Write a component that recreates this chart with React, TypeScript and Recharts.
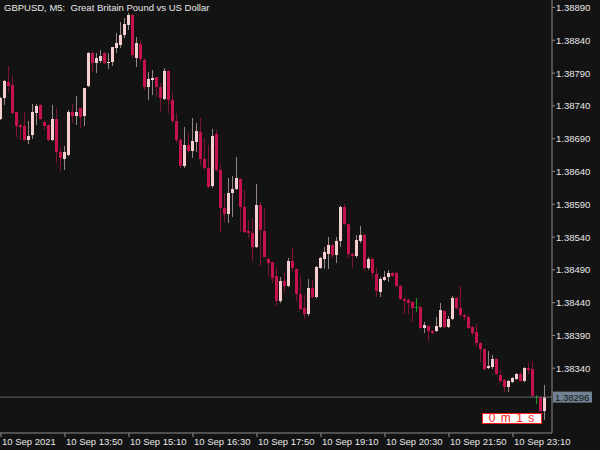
import React from "react";
import { Bar, ComposedChart, ReferenceLine, XAxis, YAxis } from "recharts";

// GBPUSD M5 candles (oldest first)
const opens = [
  1.38720, 1.38752, 1.38776, 1.38772, 1.38731, 1.38711, 1.38709, 1.38688, 1.38696, 1.38729,
  1.38741, 1.38715, 1.38711, 1.38688, 1.38720, 1.38670, 1.38659, 1.38665, 1.38731, 1.38725,
  1.38737, 1.38725, 1.38770, 1.38821, 1.38805, 1.38808, 1.38821, 1.38805, 1.38807, 1.38828,
  1.38833, 1.38848, 1.38863, 1.38879, 1.38813, 1.38834, 1.38810, 1.38769, 1.38779, 1.38784,
  1.38769, 1.38750, 1.38793, 1.38749, 1.38717, 1.38688, 1.38648, 1.38680, 1.38671, 1.38685,
  1.38700, 1.38659, 1.38645, 1.38618, 1.38697, 1.38642, 1.38584, 1.38575, 1.38607, 1.38613,
  1.38628, 1.38586, 1.38549, 1.38546, 1.38525, 1.38589, 1.38549, 1.38506, 1.38502, 1.38481,
  1.38443, 1.38473, 1.38465, 1.38503, 1.38491, 1.38453, 1.38432, 1.38423, 1.38462, 1.38449,
  1.38493, 1.38506, 1.38514, 1.38528, 1.38513, 1.38534, 1.38586, 1.38560, 1.38514, 1.38511,
  1.38534, 1.38543, 1.38493, 1.38506, 1.38484, 1.38456, 1.38475, 1.38479, 1.38485, 1.38485,
  1.38465, 1.38446, 1.38444, 1.38441, 1.38433, 1.38433, 1.38401, 1.38404, 1.38397, 1.38397,
  1.38403, 1.38427, 1.38403, 1.38415, 1.38447, 1.38432, 1.38421, 1.38418, 1.38403, 1.38395,
  1.38379, 1.38369, 1.38340, 1.38342, 1.38354, 1.38330, 1.38322, 1.38312, 1.38319, 1.38324,
  1.38331, 1.38321, 1.38340, 1.38339, 1.38296, 1.38296, 1.38275,
];
const highs = [
  1.38754, 1.38779, 1.38801, 1.38786, 1.38731, 1.38712, 1.38731, 1.38717, 1.38743, 1.38743,
  1.38743, 1.38717, 1.38712, 1.38741, 1.38737, 1.38677, 1.38679, 1.38734, 1.38743, 1.38755,
  1.38737, 1.38767, 1.38822, 1.38822, 1.38821, 1.38825, 1.38822, 1.38821, 1.38830, 1.38851,
  1.38868, 1.38874, 1.38882, 1.38880, 1.38845, 1.38839, 1.38813, 1.38792, 1.38795, 1.38784,
  1.38775, 1.38798, 1.38795, 1.38760, 1.38729, 1.38691, 1.38708, 1.38699, 1.38722, 1.38714,
  1.38722, 1.38691, 1.38680, 1.38705, 1.38703, 1.38651, 1.38607, 1.38630, 1.38633, 1.38662,
  1.38630, 1.38612, 1.38566, 1.38569, 1.38621, 1.38594, 1.38584, 1.38508, 1.38502, 1.38494,
  1.38479, 1.38485, 1.38508, 1.38523, 1.38493, 1.38479, 1.38452, 1.38476, 1.38475, 1.38496,
  1.38510, 1.38525, 1.38540, 1.38529, 1.38540, 1.38587, 1.38590, 1.38560, 1.38516, 1.38543,
  1.38557, 1.38545, 1.38510, 1.38508, 1.38493, 1.38479, 1.38488, 1.38490, 1.38487, 1.38487,
  1.38467, 1.38447, 1.38447, 1.38443, 1.38447, 1.38435, 1.38411, 1.38406, 1.38398, 1.38418,
  1.38440, 1.38429, 1.38420, 1.38450, 1.38449, 1.38465, 1.38423, 1.38421, 1.38404, 1.38407,
  1.38380, 1.38371, 1.38366, 1.38360, 1.38356, 1.38337, 1.38324, 1.38322, 1.38327, 1.38333,
  1.38334, 1.38342, 1.38348, 1.38351, 1.38299, 1.38298, 1.38314,
];
const lows = [
  1.38718, 1.38741, 1.38761, 1.38728, 1.38693, 1.38688, 1.38687, 1.38682, 1.38690, 1.38711,
  1.38718, 1.38703, 1.38686, 1.38686, 1.38653, 1.38639, 1.38642, 1.38664, 1.38714, 1.38711,
  1.38706, 1.38709, 1.38769, 1.38792, 1.38790, 1.38805, 1.38804, 1.38796, 1.38801, 1.38821,
  1.38828, 1.38843, 1.38856, 1.38813, 1.38799, 1.38807, 1.38764, 1.38749, 1.38757, 1.38754,
  1.38731, 1.38749, 1.38729, 1.38714, 1.38683, 1.38645, 1.38645, 1.38668, 1.38661, 1.38670,
  1.38650, 1.38642, 1.38615, 1.38615, 1.38639, 1.38548, 1.38563, 1.38561, 1.38571, 1.38612,
  1.38548, 1.38546, 1.38539, 1.38503, 1.38523, 1.38496, 1.38509, 1.38479, 1.38470, 1.38435,
  1.38440, 1.38455, 1.38464, 1.38487, 1.38443, 1.38429, 1.38415, 1.38420, 1.38447, 1.38447,
  1.38491, 1.38491, 1.38491, 1.38508, 1.38500, 1.38525, 1.38558, 1.38508, 1.38493, 1.38508,
  1.38531, 1.38490, 1.38490, 1.38478, 1.38449, 1.38449, 1.38473, 1.38471, 1.38479, 1.38464,
  1.38444, 1.38423, 1.38423, 1.38411, 1.38426, 1.38400, 1.38394, 1.38382, 1.38392, 1.38395,
  1.38402, 1.38401, 1.38401, 1.38413, 1.38429, 1.38418, 1.38413, 1.38400, 1.38391, 1.38372,
  1.38350, 1.38336, 1.38339, 1.38339, 1.38330, 1.38318, 1.38304, 1.38304, 1.38318, 1.38322,
  1.38319, 1.38319, 1.38331, 1.38296, 1.38286, 1.38273, 1.38261,
];
const closes = [
  1.38752, 1.38778, 1.38770, 1.38729, 1.38709, 1.38708, 1.38688, 1.38694, 1.38731, 1.38740,
  1.38720, 1.38709, 1.38688, 1.38720, 1.38670, 1.38660, 1.38670, 1.38731, 1.38725, 1.38731,
  1.38723, 1.38767, 1.38821, 1.38805, 1.38813, 1.38816, 1.38805, 1.38807, 1.38830, 1.38836,
  1.38848, 1.38865, 1.38879, 1.38818, 1.38836, 1.38811, 1.38769, 1.38781, 1.38782, 1.38769,
  1.38752, 1.38793, 1.38749, 1.38717, 1.38688, 1.38648, 1.38680, 1.38671, 1.38686, 1.38702,
  1.38659, 1.38645, 1.38616, 1.38694, 1.38642, 1.38584, 1.38575, 1.38607, 1.38613, 1.38630,
  1.38586, 1.38548, 1.38546, 1.38525, 1.38589, 1.38551, 1.38510, 1.38500, 1.38478, 1.38443,
  1.38473, 1.38465, 1.38503, 1.38493, 1.38453, 1.38430, 1.38423, 1.38462, 1.38449, 1.38494,
  1.38508, 1.38517, 1.38528, 1.38513, 1.38534, 1.38586, 1.38560, 1.38514, 1.38511, 1.38536,
  1.38543, 1.38493, 1.38506, 1.38485, 1.38458, 1.38476, 1.38479, 1.38485, 1.38481, 1.38465,
  1.38446, 1.38443, 1.38440, 1.38432, 1.38433, 1.38401, 1.38406, 1.38397, 1.38394, 1.38404,
  1.38429, 1.38403, 1.38415, 1.38447, 1.38432, 1.38421, 1.38418, 1.38401, 1.38394, 1.38379,
  1.38369, 1.38339, 1.38343, 1.38354, 1.38331, 1.38321, 1.38312, 1.38321, 1.38325, 1.38331,
  1.38321, 1.38340, 1.38337, 1.38298, 1.38296, 1.38275, 1.38296,
];

const timeTickIdx = [0, 16, 32, 48, 64, 80, 96, 112, 128];
const timeLabels = [
  "10 Sep 2021", "10 Sep 13:50", "10 Sep 15:10", "10 Sep 16:30", "10 Sep 17:50",
  "10 Sep 19:10", "10 Sep 20:30", "10 Sep 21:50", "10 Sep 23:10",
];
const priceTicks = [
  1.3834, 1.3839, 1.3844, 1.3849, 1.3854, 1.3859, 1.3864, 1.3869, 1.3874, 1.3879, 1.3884, 1.3889,
];
const bidPrice = 1.38296;

const BG = "#131313";
const FRAME = "#8c8c8c";
const TEXT = "#e8e8e8";
const BULL_BODY = "#f9cece";
const BULL_WICK = "#958585";
const BEAR_BODY = "#c6124c";
const BEAR_WICK = "#7d1436";
const DOJI = "#1f9a1f";
const FONT = "Tahoma, 'Liberation Sans', Arial, sans-serif";

const candles = opens.map((o, i) => ({
  i,
  o,
  h: highs[i],
  l: lows[i],
  c: closes[i],
  range: [lows[i], highs[i]],
}));

function Candle(props: any) {
  const { x, y, width, height, payload } = props;
  if (x == null || payload == null) return null;
  const { o, h, l, c } = payload;
  const top = Math.min(y, y + height);
  const bot = Math.max(y, y + height);
  const toY = (v: number) => (h === l ? top : top + ((h - v) / (h - l)) * (bot - top));
  const cx = Math.round(x + width / 2 - 0.5);
  const yo = toY(o);
  const yc = toY(c);
  const bTop = Math.round(Math.min(yo, yc));
  const bH = Math.max(1, Math.round(Math.max(yo, yc)) - bTop);
  const doji = o === c;
  const up = c > o;
  const wick = doji ? DOJI : up ? BULL_WICK : BEAR_WICK;
  const body = doji ? DOJI : up ? BULL_BODY : BEAR_BODY;
  const wTop = Math.round(top);
  return (
    <g>
      <rect x={cx} y={wTop} width={1} height={Math.max(1, Math.round(bot) - wTop)} fill={wick} />
      <rect x={cx - 1} y={bTop} width={3} height={doji ? 1 : bH} fill={body} />
    </g>
  );
}

function TimeTick(props: any) {
  const { x, payload } = props;
  const k = timeTickIdx.indexOf(payload.value);
  return (
    <text x={x + 1} y={441} fill={TEXT} fontSize={9.5} fontFamily={FONT} textAnchor="start" dominantBaseline="central">
      {timeLabels[k]}
    </text>
  );
}

function PriceTick(props: any) {
  const { x, y, payload } = props;
  return (
    <text x={x} y={y} fill={TEXT} fontSize={9.5} fontFamily={FONT} textAnchor="start" dominantBaseline="central">
      {Number(payload.value).toFixed(5)}
    </text>
  );
}

function BidLabel(props: any) {
  const vb = props.viewBox;
  if (!vb) return null;
  const lx = vb.x + vb.width + 1;
  return (
    <g>
      <rect x={lx} y={vb.y - 5.5} width={39} height={11} fill="#708293" />
      <text x={lx + 2} y={vb.y} fill="#141414" fontSize={9.5} fontFamily={FONT} dominantBaseline="central">
        {bidPrice.toFixed(5)}
      </text>
    </g>
  );
}

export default function App() {
  return (
    <div style={{ position: "absolute", left: 0, top: 0, width: 600, height: 450, background: BG, overflow: "hidden" }}>
      <ComposedChart width={600} height={450} data={candles} margin={{ top: 0, right: 0, bottom: 0, left: 0 }}>
        <XAxis
          type="number"
          dataKey="i"
          domain={[-0.25, 137.75]}
          allowDataOverflow
          ticks={timeTickIdx}
          interval={0}
          height={17}
          axisLine={{ stroke: FRAME }}
          tickLine={{ stroke: FRAME }}
          tickSize={4}
          tick={<TimeTick />}
        />
        <YAxis
          orientation="right"
          domain={[1.382413, 1.389014]}
          allowDataOverflow
          ticks={priceTicks}
          interval={0}
          width={48}
          axisLine={{ stroke: FRAME }}
          tickLine={{ stroke: FRAME }}
          tickSize={3}
          tickMargin={1}
          tick={<PriceTick />}
        />
        <ReferenceLine y={bidPrice} stroke="#5d6873" strokeWidth={1} label={<BidLabel />} />
        <Bar dataKey="range" barSize={3} isAnimationActive={false} shape={(p: any) => <Candle {...p} />} />
      </ComposedChart>
      <div
        style={{
          position: "absolute",
          left: 4,
          top: 2,
          color: TEXT,
          fontFamily: FONT,
          fontSize: 9.5,
          whiteSpace: "pre",
          lineHeight: "12px",
        }}
      >
        {"GBPUSD, M5:  Great Britain Pound vs US Dollar"}
      </div>
      <div
        style={{
          position: "absolute",
          left: 482,
          top: 413,
          width: 60,
          height: 11,
          boxSizing: "border-box",
          background: "#ffffff",
          border: "1px solid #ff1a1a",
          color: "#ff1a1a",
          fontFamily: FONT,
          fontSize: 12,
          lineHeight: "9px",
          letterSpacing: 1,
          textAlign: "center",
          whiteSpace: "pre",
        }}
      >
        {"0 m 1 s"}
      </div>
    </div>
  );
}
